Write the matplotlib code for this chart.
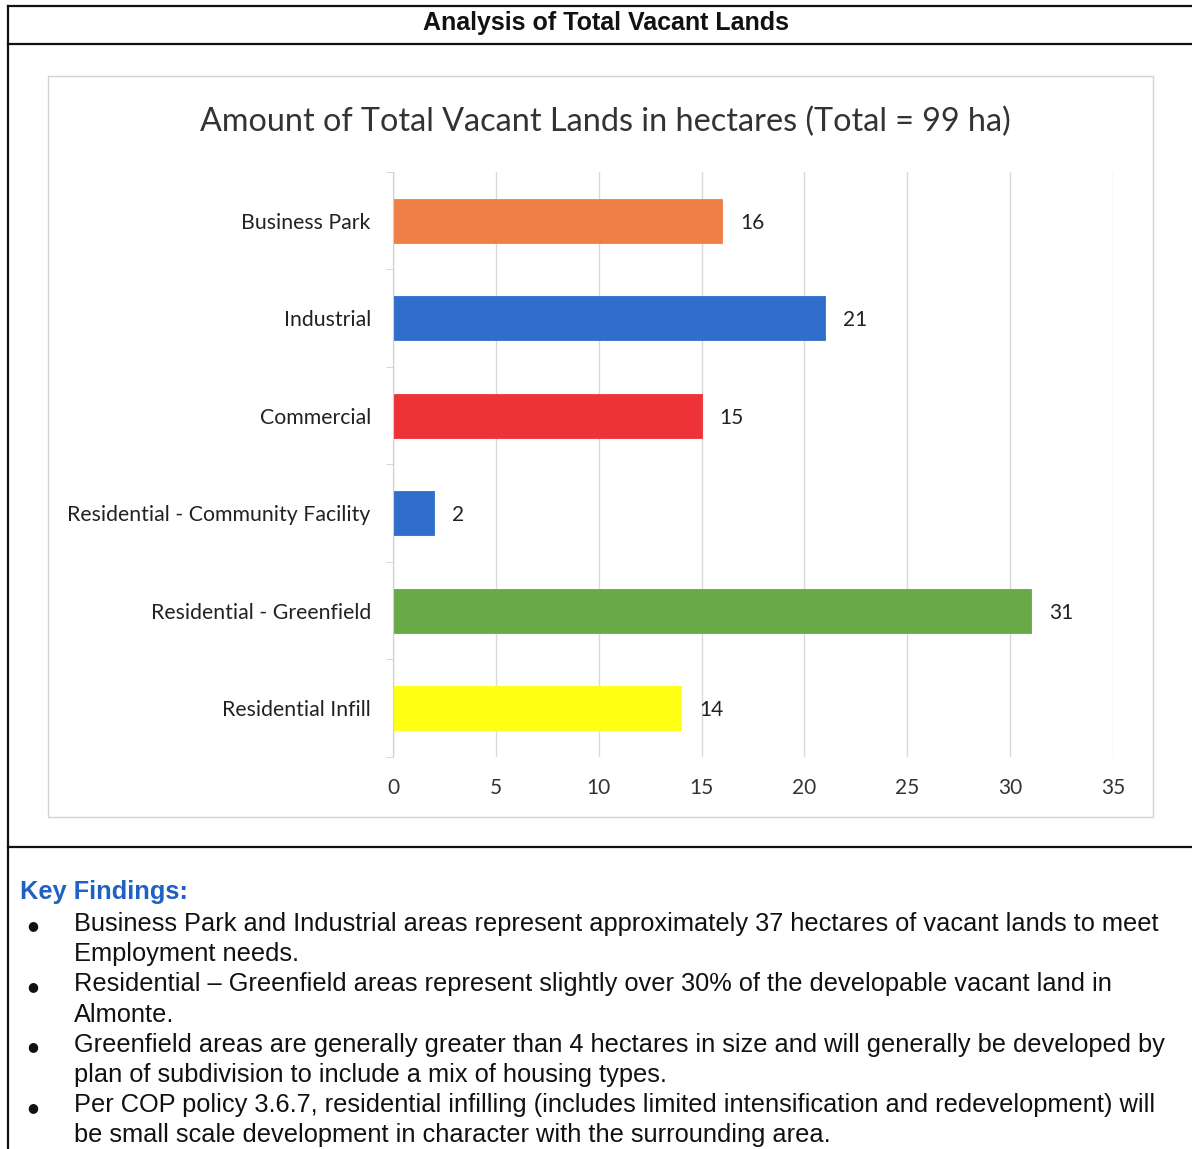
import matplotlib.pyplot as plt
from matplotlib.lines import Line2D
from matplotlib.patches import Rectangle

W, H = 1192, 1149

categories = ['Business Park', 'Industrial', 'Commercial',
              'Residential - Community Facility', 'Residential - Greenfield',
              'Residential Infill']
hectares = [16, 21, 15, 2, 31, 14]
bar_colors = ['#F07F45', '#2F6FCB', '#EE3338', '#2F6FCB', '#6AAA46', '#FFFF14']
x_ticks = [0, 5, 10, 15, 20, 25, 30, 35]

header = 'Analysis of Total Vacant Lands'
chart_title = 'Amount of Total Vacant Lands in hectares (Total = 99 ha)'
findings = [
    ['Business Park and Industrial areas represent approximately 37 hectares of vacant lands to meet',
     'Employment needs.'],
    ['Residential \u2013 Greenfield areas represent slightly over 30% of the developable vacant land in',
     'Almonte.'],
    ['Greenfield areas are generally greater than 4 hectares in size and will generally be developed by',
     'plan of subdivision to include a mix of housing types.'],
    ['Per COP policy 3.6.7, residential infilling (includes limited intensification and redevelopment) will',
     'be small scale development in character with the surrounding area.'],
]


def fx(px):
    return px / W


def fy(py):
    return 1 - py / H


fig = plt.figure(figsize=(W / 100, H / 100), dpi=100)
fig.patch.set_facecolor('white')

# document box lines
for (x0, y0, x1, y1) in [(8, 6, W, 6), (8, 44, W, 44), (8, 847, W, 847), (8, 6, 8, H)]:
    fig.add_artist(Line2D([fx(x0), fx(x1)], [fy(y0), fy(y1)], color='#111111', lw=1.6))

fig.text(fx(606), fy(23), header, ha='center', va='center',
         fontsize=18, fontweight='bold', family='Liberation Sans', color='#111111')

# chart area frame
fig.add_artist(Rectangle((fx(48), fy(817)), fx(1153) - fx(48), fy(76) - fy(817),
                         transform=fig.transFigure, fill=False, ec='#d4d4d4', lw=1))
fig.text(fx(605), fy(122), chart_title, ha='center', va='center',
         fontsize=23.3, family='Lato', color='#333333')

ax = fig.add_axes([fx(393), fy(757), fx(1113) - fx(393), fy(172) - fy(757)])
ypos = list(range(len(categories)))
ax.barh(ypos, hectares, height=0.45, color=bar_colors, lw=0.6)
for bar, c in zip(ax.patches, bar_colors):
    bar.set_edgecolor(c)
for y, v in zip(ypos, hectares):
    ax.annotate(str(v), (v, y), xytext=(13, 0), textcoords='offset points',
                ha='left', va='center_baseline', fontsize=15, family='Lato', color='#222222')

ax.set_xlim(0, 35)
ax.set_ylim(len(categories) - 0.5, -0.5)
ax.set_xticks(x_ticks)
ax.set_yticks(ypos)
ax.set_yticklabels(categories)
ax.set_yticks([i - 0.5 for i in range(len(categories) + 1)], minor=True)
ax.tick_params(axis='x', length=0, pad=15, labelsize=15, labelcolor='#333333')
ax.tick_params(axis='y', which='major', length=0, pad=16, labelsize=15.3, labelcolor='#222222')
ax.tick_params(axis='y', which='minor', length=5, color='#d0d0d0')
for lab in ax.get_xticklabels() + ax.get_yticklabels():
    lab.set_family('Lato')
ax.grid(axis='x', color='#d9d9d9', lw=1)
ax.set_axisbelow(True)
for side in ['top', 'right', 'bottom']:
    ax.spines[side].set_visible(False)
ax.spines['left'].set_color('#d0d0d0')

# key findings
fig.text(fx(20), fy(892), 'Key Findings:', ha='left', va='center',
         fontsize=18.3, fontweight='bold', family='Liberation Sans', color='#1F62C4')
line_y = 924
for item in findings:
    fig.text(fx(33), fy(line_y + 2), '\u25CF', ha='center', va='center',
             fontsize=9, family='DejaVu Sans', color='#111111')
    for line in item:
        fig.text(fx(74), fy(line_y), line, ha='left', va='center',
                 fontsize=18.3, family='Liberation Sans', color='#111111')
        line_y += 30.2

fig.savefig('out.png', dpi=100)
